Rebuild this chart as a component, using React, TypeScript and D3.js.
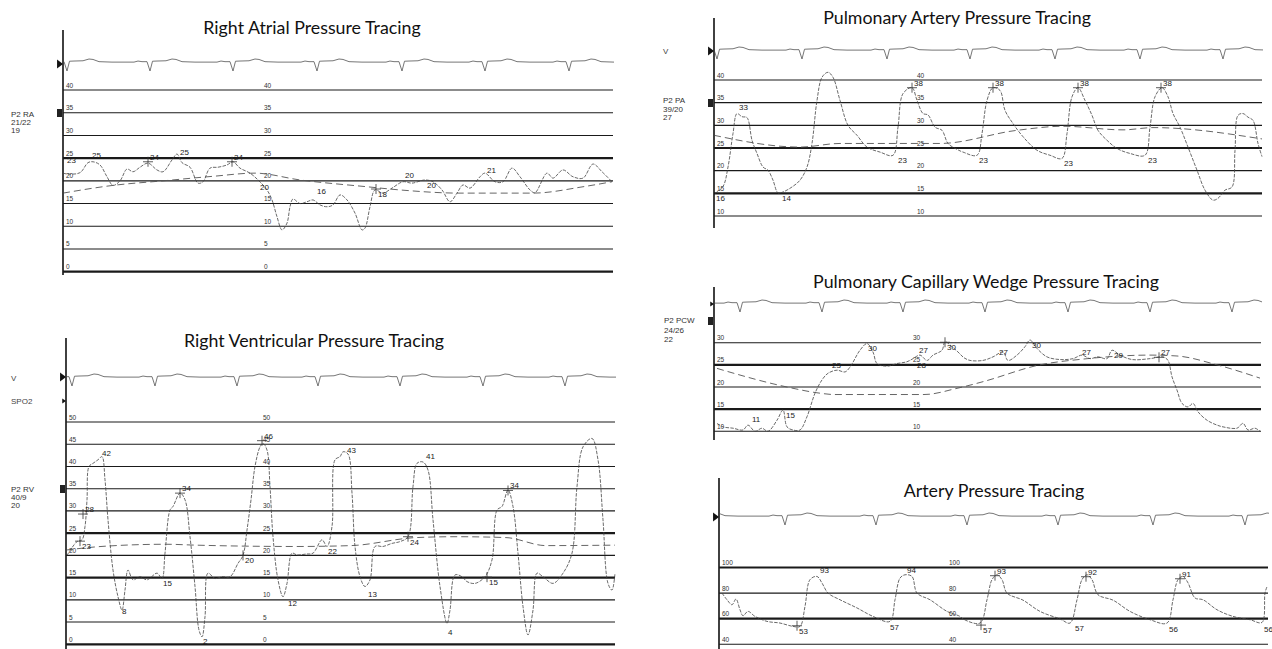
import React, { useEffect, useRef } from 'react';
import * as d3 from 'd3';

type Pt = [number, number];
type Mark = { t: number; v: number; label: string; cross?: boolean; below?: boolean };

// time in seconds (t), pressure in mmHg (v)

// ---------- one ECG complex, offsets in s, amplitude in arbitrary units ----------
const ecgBeat: Pt[] = [
  [-0.16, 0], [-0.12, 0.12], [-0.08, 0.05], [-0.03, 0.05], [0, -1], [0.025, 0.1],
  [0.07, 0.12], [0.16, 0.15], [0.22, 0.35], [0.26, 0.3], [0.32, 0.05], [0.45, 0]
];

// ---------- Right atrial ----------
const raGrid = [40, 35, 30, 25, 20, 15, 10, 5, 0];
const raBold = [25, 0];
const raBeats = [0.04, 0.87, 1.7, 2.54, 3.39, 4.22, 5.06];
const raInfo = ['P2 RA', '21/22', '19'];
const raPressure: Pt[] = [
  [0, 21.7], [0.05, 21.5], [0.17, 21.8], [0.25, 24], [0.3, 24.2], [0.37, 23.5], [0.44, 20.9],
  [0.5, 19], [0.57, 20], [0.64, 22.6], [0.7, 22], [0.77, 23], [0.85, 23.9], [0.94, 22.4],
  [1.0, 22], [1.09, 24.6], [1.14, 25.9], [1.19, 24], [1.27, 23], [1.35, 19.5], [1.4, 19.8],
  [1.47, 22.8], [1.55, 23], [1.64, 23.5], [1.7, 24.2], [1.77, 22.8], [1.87, 21.7], [1.95, 20.2],
  [2.04, 18], [2.09, 15.8], [2.14, 12.1], [2.19, 9.2], [2.24, 10.7], [2.27, 14.3], [2.3, 16],
  [2.37, 15], [2.44, 15.4], [2.5, 15.8], [2.57, 14.7], [2.64, 14.3], [2.7, 14.7], [2.77, 16.9],
  [2.84, 15.8], [2.92, 12.9], [2.99, 9.2], [3.02, 9.6], [3.07, 14.3], [3.12, 18], [3.2, 17.3],
  [3.29, 18.4], [3.4, 19.8], [3.49, 19.5], [3.62, 20.2], [3.7, 19.8], [3.79, 18], [3.87, 15.4],
  [3.94, 17.3], [4.0, 19.1], [4.07, 18.4], [4.17, 20.9], [4.22, 21.7], [4.32, 19.8], [4.4, 19.8],
  [4.49, 22.8], [4.57, 20.9], [4.67, 18], [4.72, 17.4], [4.84, 21.7], [4.9, 20.6], [5.0, 22.4],
  [5.1, 20.9], [5.2, 20.6], [5.3, 23.7], [5.39, 22], [5.49, 19.8]
];
const raMean: Pt[] = [
  [0, 17.3], [0.5, 19], [1.0, 20], [1.5, 21], [1.92, 21.7], [2.37, 20.2], [3.04, 18.7],
  [3.37, 18], [3.97, 17.3], [4.7, 17.3], [5.2, 18.7], [5.49, 19.8]
];
const raMarks: Mark[] = [
  { t: 0.02, v: 23.5, label: '23' }, { t: 0.27, v: 24.6, label: '25' },
  { t: 0.85, v: 24.2, label: '24', cross: true }, { t: 1.15, v: 25.3, label: '25' },
  { t: 1.69, v: 24.2, label: '24', cross: true }, { t: 1.95, v: 19.8, label: '20', below: true },
  { t: 2.52, v: 16.6, label: '16' }, { t: 3.13, v: 18.2, label: '18', cross: true, below: true },
  { t: 3.4, v: 20.2, label: '20' }, { t: 3.62, v: 20.2, label: '20', below: true },
  { t: 4.22, v: 21.3, label: '21' }
];

// ---------- Right ventricular ----------
const rvGrid = [50, 45, 40, 35, 30, 25, 20, 15, 10, 5, 0];
const rvBold = [25, 15, 0];
const rvBeats = [0.06, 0.89, 1.71, 2.52, 3.34, 4.17, 4.99];
const rvInfo = ['P2 RV', '40/9', '20'];
const rvPressure: Pt[] = [
  [0.01, 20], [0.11, 23.1], [0.16, 23.5], [0.19, 26.5], [0.21, 32.5], [0.23, 40], [0.27, 40.7],
  [0.32, 41.5], [0.36, 42.2], [0.39, 37], [0.42, 28], [0.47, 16.7], [0.52, 10.7], [0.56, 7.7],
  [0.59, 12.2], [0.62, 16.7], [0.67, 14.5], [0.74, 15.2], [0.81, 14.5], [0.91, 16], [0.96, 14.8],
  [0.99, 20.5], [1.04, 30.2], [1.07, 31], [1.14, 34], [1.19, 32.5], [1.24, 24.2], [1.29, 13],
  [1.33, 3.2], [1.36, 1.7], [1.39, 6.2], [1.42, 16], [1.49, 14.8], [1.56, 15.2], [1.64, 15.2],
  [1.72, 18.2], [1.77, 20], [1.81, 25.7], [1.85, 32.5], [1.89, 40], [1.94, 44.4], [1.97, 45.2],
  [2.01, 43.7], [2.04, 35.5], [2.07, 24.2], [2.12, 14.5], [2.17, 10.7], [2.21, 13.7], [2.26, 20.5],
  [2.31, 20.1], [2.4, 20.3], [2.47, 20.5], [2.56, 23.5], [2.61, 22], [2.66, 26.5], [2.69, 41.5],
  [2.74, 42.2], [2.77, 43.3], [2.82, 42.8], [2.86, 34], [2.89, 22], [2.94, 15.2], [2.99, 13],
  [3.04, 14.5], [3.09, 22], [3.17, 22], [3.26, 22.7], [3.34, 23.1], [3.42, 24.2], [3.47, 35.5],
  [3.51, 40.7], [3.57, 41], [3.62, 39.2], [3.67, 28], [3.74, 13], [3.81, 4.7], [3.84, 7.7],
  [3.89, 15.6], [3.96, 15.2], [4.01, 14.1], [4.09, 13.7], [4.19, 15.2], [4.26, 19], [4.31, 30.2],
  [4.36, 31], [4.42, 34.7], [4.47, 31], [4.52, 20.5], [4.57, 8.5], [4.62, 2.1], [4.67, 7.7],
  [4.71, 16], [4.77, 15.2], [4.87, 13.7], [4.97, 16], [5.06, 20.5], [5.11, 35.5], [5.17, 44.4],
  [5.26, 46.3], [5.32, 41.5], [5.37, 28], [5.42, 13.7], [5.46, 12.2], [5.49, 16]
];
const rvMean: Pt[] = [
  [0, 21.2], [0.35, 22], [1.0, 22.5], [1.3, 22.3], [2.3, 22], [2.85, 22.2], [3.5, 24],
  [3.9, 24.2], [4.4, 24], [4.8, 22.2], [5.49, 22.3]
];
const rvMarks: Mark[] = [
  { t: 0.17, v: 29.3, label: '28', cross: true }, { t: 0.14, v: 23.2, label: '23', cross: true, below: true },
  { t: 0.34, v: 42, label: '42' }, { t: 0.54, v: 8.6, label: '8', below: true },
  { t: 0.95, v: 15, label: '15', below: true }, { t: 1.14, v: 34, label: '34', cross: true },
  { t: 1.35, v: 1.9, label: '2', below: true }, { t: 1.77, v: 20, label: '20', cross: true, below: true },
  { t: 1.96, v: 45.8, label: '46', cross: true }, { t: 2.2, v: 10.5, label: '12', below: true },
  { t: 2.6, v: 22, label: '22', below: true }, { t: 2.79, v: 42.6, label: '43' },
  { t: 3.0, v: 12.5, label: '13', below: true }, { t: 3.42, v: 24.2, label: '24', cross: true, below: true },
  { t: 3.58, v: 41.3, label: '41' }, { t: 3.8, v: 4, label: '4', below: true },
  { t: 4.21, v: 15.1, label: '15', cross: true, below: true }, { t: 4.42, v: 34.6, label: '34', cross: true }
];

// ---------- Pulmonary artery ----------
const paGrid = [40, 35, 30, 25, 20, 15, 10];
const paBold = [25, 15];
const paBeats = [0.03, 0.88, 1.73, 2.56, 3.41, 4.26, 5.09];
const paInfo = ['P2 PA', '39/20', '27'];
const paPressure: Pt[] = [
  [0.01, 15], [0.09, 16.5], [0.14, 20.8], [0.19, 28.2], [0.23, 32.6], [0.28, 31.9], [0.33, 31.7],
  [0.38, 26.7], [0.43, 23.8], [0.49, 20.8], [0.54, 20.1], [0.59, 17.9], [0.64, 15.1], [0.69, 15.3],
  [0.78, 16.4], [0.86, 17.9], [0.93, 20.8], [0.98, 26], [1.03, 35.5], [1.08, 40.6], [1.14, 41.7],
  [1.19, 40.6], [1.26, 35.5], [1.34, 30], [1.43, 27.8], [1.53, 25.2], [1.66, 24.1], [1.79, 23.4],
  [1.84, 29.6], [1.89, 37], [1.98, 38.3], [2.03, 35.5], [2.09, 32.6], [2.14, 32.3], [2.21, 29.6],
  [2.28, 28.9], [2.34, 26], [2.43, 24.7], [2.49, 24.1], [2.63, 23.4], [2.68, 28.2], [2.73, 35.5],
  [2.79, 38.3], [2.86, 37.7], [2.91, 33.3], [2.99, 30.4], [3.09, 27.5], [3.23, 24.5], [3.36, 23.4],
  [3.48, 22.7], [3.53, 28.2], [3.58, 36.3], [3.64, 38.3], [3.71, 35.5], [3.78, 32.2], [3.84, 28.9],
  [3.93, 26.7], [4.03, 24.9], [4.16, 23.8], [4.31, 23.4], [4.36, 29.6], [4.41, 36.3], [4.48, 38.3],
  [4.54, 36.3], [4.59, 32.6], [4.66, 29.6], [4.74, 25.2], [4.83, 20.1], [4.91, 15.7], [4.99, 13.5],
  [5.04, 13.9], [5.11, 15.7], [5.18, 16.4], [5.21, 24.5], [5.24, 32.2], [5.29, 32.6], [5.34, 31.8],
  [5.39, 31.1], [5.44, 26], [5.48, 23.1]
];
const paMean: Pt[] = [
  [0, 27.8], [0.86, 25.2], [1.26, 26], [2.26, 26], [3.03, 28.9], [3.49, 29.8], [4.09, 29],
  [4.39, 29.5], [5.48, 27]
];
const paMarks: Mark[] = [
  { t: 0.23, v: 33, label: '33' }, { t: 0.0, v: 15, label: '16', below: true },
  { t: 0.66, v: 15, label: '14', below: true },
  { t: 1.98, v: 38.3, label: '38', cross: true }, { t: 1.82, v: 23.4, label: '23', below: true },
  { t: 2.79, v: 38.3, label: '38', cross: true }, { t: 2.63, v: 23.4, label: '23', below: true },
  { t: 3.64, v: 38.3, label: '38', cross: true }, { t: 3.48, v: 22.9, label: '23', below: true },
  { t: 4.47, v: 38.3, label: '38', cross: true }, { t: 4.32, v: 23.4, label: '23', below: true }
];

// ---------- Pulmonary capillary wedge ----------
const pcwGrid = [30, 25, 20, 15, 10];
const pcwBold = [25, 15];
const pcwBeats = [-0.56, 0.26, 1.08, 1.89, 2.71, 3.54, 4.36, 5.18];
const pcwInfo = ['P2 PCW', '24/26', '22'];
const pcwPressure: Pt[] = [
  [0.03, 11.8], [0.09, 11], [0.19, 10.7], [0.29, 10.3], [0.34, 11.4], [0.41, 10], [0.48, 10.7],
  [0.54, 10], [0.63, 12.5], [0.69, 14.8], [0.73, 11], [0.79, 10.3], [0.86, 10.3], [0.93, 13.3],
  [1.01, 18.6], [1.08, 21.6], [1.14, 23.1], [1.23, 23.8], [1.31, 23.4], [1.36, 24.5], [1.46, 28.3],
  [1.53, 29.8], [1.59, 27.9], [1.63, 25.3], [1.73, 24.7], [1.83, 25.3], [1.93, 25.7], [1.99, 26.4],
  [2.06, 27.2], [2.13, 26], [2.19, 27.2], [2.28, 28.3], [2.31, 30.2], [2.38, 29.1], [2.44, 27.9],
  [2.5, 26.6], [2.56, 26], [2.69, 26], [2.79, 26.8], [2.89, 27.9], [2.94, 26], [3.03, 27.2],
  [3.11, 29.1], [3.16, 30.6], [3.23, 28.7], [3.33, 26.8], [3.46, 26.2], [3.59, 26.4], [3.68, 27.2],
  [3.76, 26.4], [3.84, 26.8], [3.93, 26.4], [3.98, 28.3], [4.06, 27.2], [4.18, 26.2], [4.36, 26.4],
  [4.49, 26.8], [4.54, 26], [4.58, 22.3], [4.63, 19.3], [4.68, 16.3], [4.74, 15.5], [4.79, 16.3],
  [4.84, 14.4], [4.93, 12.5], [5.03, 11.4], [5.09, 11], [5.23, 10.7], [5.29, 11.8], [5.34, 10.3],
  [5.41, 10.7], [5.46, 10]
];
const pcwMean: Pt[] = [
  [0.03, 24.2], [0.73, 20], [1.06, 18.6], [1.2, 18.3], [2.1, 18.3], [2.43, 19.7], [2.69, 21.2],
  [3.26, 25], [3.69, 26.3], [4.36, 27.2], [4.63, 27], [5.03, 25], [5.46, 22]
];
const pcwMarks: Mark[] = [
  { t: 0.36, v: 11.6, label: '11' }, { t: 0.7, v: 14.7, label: '15', below: true },
  { t: 1.16, v: 23.8, label: '23' }, { t: 1.52, v: 29.9, label: '30', below: true },
  { t: 2.03, v: 27.2, label: '27' }, { t: 2.01, v: 26, label: '28', below: true },
  { t: 2.31, v: 30.1, label: '30', cross: true, below: true }, { t: 2.83, v: 26.8, label: '27' },
  { t: 3.16, v: 30.6, label: '30', below: true }, { t: 3.66, v: 26.8, label: '27' },
  { t: 3.98, v: 28.3, label: '29', below: true }, { t: 4.45, v: 26.7, label: '27', cross: true }
];

// ---------- Systemic artery ----------
const artGrid = [100, 80, 60, 40];
const artBold = [100, 60];
const artBeats = [-0.26, 0.66, 1.57, 2.48, 3.39, 4.34, 5.26];
const artPressure: Pt[] = [
  [0.03, 80], [0.08, 74.8], [0.13, 70.9], [0.17, 75.4], [0.21, 67], [0.24, 62.3], [0.29, 65.7],
  [0.36, 61.8], [0.48, 57.9], [0.61, 56.6], [0.74, 54], [0.81, 54], [0.86, 69.6], [0.91, 90.5],
  [0.98, 93], [1.03, 87.9], [1.09, 80], [1.21, 74.8], [1.38, 68.4], [1.54, 61.8], [1.71, 57.9],
  [1.76, 74.8], [1.81, 91.7], [1.86, 94.3], [1.93, 93], [1.98, 80], [2.11, 74.8], [2.28, 65.7],
  [2.41, 61.8], [2.44, 59.8], [2.61, 56.6], [2.68, 74.8], [2.73, 90.5], [2.78, 94.3], [2.83, 90.5],
  [2.88, 80], [3.04, 74.5], [3.21, 65.7], [3.41, 59.8], [3.51, 56.6], [3.58, 74.8], [3.63, 90.5],
  [3.68, 94.3], [3.73, 90.5], [3.79, 78.7], [3.94, 74.5], [4.11, 65.7], [4.31, 59.2], [4.48, 56.6],
  [4.54, 74.8], [4.59, 90.5], [4.64, 93], [4.69, 88], [4.76, 76.2], [4.84, 74.8], [4.98, 67],
  [5.14, 61.8], [5.31, 59.2], [5.43, 57.1], [5.46, 80], [5.48, 85]
];
const artMarks: Mark[] = [
  { t: 0.78, v: 54.5, label: '53', cross: true, below: true }, { t: 0.99, v: 94, label: '93' },
  { t: 1.69, v: 57.6, label: '57', below: true }, { t: 1.86, v: 94.4, label: '94' },
  { t: 2.62, v: 55, label: '57', cross: true, below: true }, { t: 2.76, v: 93.6, label: '93', cross: true },
  { t: 3.54, v: 57, label: '57', below: true }, { t: 3.67, v: 92.8, label: '92', cross: true },
  { t: 4.48, v: 56, label: '56', below: true }, { t: 4.61, v: 91.2, label: '91', cross: true },
  { t: 5.43, v: 56, label: '56', below: true }
];

// ---------- layout of the five strips ----------
const panels = [
  {
    id: 'ra', title: 'Right Atrial Pressure Tracing', titleX: 312, titleY: 34,
    x0: 63, x1: 613, axisTop: 30, axisBottom: 275, vTop: 40, vBottom: 0, yTop: 90, yBottom: 271.7,
    grid: raGrid, bold: raBold, label2X: 264, ecgY: 62, beats: raBeats,
    pressure: raPressure, mean: raMean, marks: raMarks,
    info: raInfo, infoX: 11, infoY: 117, infoStep: 8, side: [] as { text: string; y: number }[],
    glyphs: [{ kind: 'tri', y: 64 }, { kind: 'sq', y: 113 }]
  },
  {
    id: 'rv', title: 'Right Ventricular Pressure Tracing', titleX: 314, titleY: 347,
    x0: 66, x1: 615, axisTop: 338, axisBottom: 649, vTop: 50, vBottom: 0, yTop: 422, yBottom: 644.3,
    grid: rvGrid, bold: rvBold, label2X: 263, ecgY: 377, beats: rvBeats,
    pressure: rvPressure, mean: rvMean, marks: rvMarks,
    info: rvInfo, infoX: 11, infoY: 492, infoStep: 8,
    side: [{ text: 'V', y: 381 }, { text: 'SPO2', y: 404 }],
    glyphs: [{ kind: 'tri', y: 377 }, { kind: 'smalltri', y: 401 }, { kind: 'sq', y: 489 }]
  },
  {
    id: 'pa', title: 'Pulmonary Artery Pressure Tracing', titleX: 957, titleY: 24,
    x0: 714, x1: 1262, axisTop: 18, axisBottom: 228, vTop: 40, vBottom: 10, yTop: 80, yBottom: 216,
    grid: paGrid, bold: paBold, label2X: 917, ecgY: 50, beats: paBeats,
    pressure: paPressure, mean: paMean, marks: paMarks,
    info: paInfo, infoX: 663, infoY: 103, infoStep: 8.5,
    side: [{ text: 'V', y: 54 }],
    glyphs: [{ kind: 'tri', y: 51 }, { kind: 'sq', y: 103 }]
  },
  {
    id: 'pcw', title: 'Pulmonary Capillary Wedge Pressure Tracing', titleX: 986, titleY: 288,
    x0: 714, x1: 1261, axisTop: 287, axisBottom: 440, vTop: 30, vBottom: 10, yTop: 342.7, yBottom: 431.3,
    grid: pcwGrid, bold: pcwBold, label2X: 913, ecgY: 303, beats: pcwBeats,
    pressure: pcwPressure, mean: pcwMean, marks: pcwMarks,
    info: pcwInfo, infoX: 664, infoY: 323, infoStep: 9.5, side: [] as { text: string; y: number }[],
    glyphs: [{ kind: 'smalltri', y: 304 }, { kind: 'sq', y: 321 }]
  },
  {
    id: 'art', title: 'Artery Pressure Tracing', titleX: 994, titleY: 497,
    x0: 719, x1: 1268, axisTop: 478, axisBottom: 649, vTop: 100, vBottom: 40, yTop: 567.5, yBottom: 644.3,
    grid: artGrid, bold: artBold, label2X: 949, ecgY: 516, beats: artBeats,
    pressure: artPressure, mean: [] as Pt[], marks: artMarks,
    info: [] as string[], infoX: 664, infoY: 0, infoStep: 8, side: [] as { text: string; y: number }[],
    glyphs: [{ kind: 'tri', y: 517 }]
  }
];

const smallFont = '"Liberation Sans", Arial, sans-serif';

function App() {
  const svgRef = useRef<SVGSVGElement>(null);

  useEffect(() => {
    const svg = d3.select(svgRef.current);
    svg.selectAll('*').remove();
    const defs = svg.append('defs');

    panels.forEach(p => {
      const g = svg.append('g');
      const tMax = (p.x1 - p.x0) / 100;
      const x = d3.scaleLinear().domain([0, tMax]).range([p.x0, p.x1]);
      const y = d3.scaleLinear().domain([p.vBottom, p.vTop]).range([p.yBottom, p.yTop]);
      const ecgScale = d3.scaleLinear().domain([-1, 0.35]).range([p.ecgY + 9, p.ecgY - 3]);

      defs.append('clipPath').attr('id', `clip-${p.id}`)
        .append('rect')
        .attr('x', p.x0 + 1).attr('y', 0)
        .attr('width', p.x1 - p.x0).attr('height', 649);

      // title
      g.append('text')
        .attr('x', p.titleX).attr('y', p.titleY)
        .attr('text-anchor', 'middle')
        .style('font-family', 'Lato, "Open Sans", sans-serif')
        .style('font-size', '17.8px')
        .style('fill', '#111')
        .text(p.title);

      // left info block
      p.info.forEach((s, i) => {
        g.append('text')
          .attr('x', p.infoX).attr('y', p.infoY + i * p.infoStep)
          .style('font-family', smallFont).style('font-size', '8px').style('fill', '#333')
          .text(s);
      });
      p.side.forEach(s => {
        g.append('text')
          .attr('x', p.infoX).attr('y', s.y)
          .style('font-family', smallFont).style('font-size', '8px').style('fill', '#444')
          .text(s.text);
      });

      // channel glyphs on the axis
      p.glyphs.forEach(gl => {
        if (gl.kind === 'sq') {
          g.append('rect').attr('x', p.x0 - 6).attr('y', gl.y - 4).attr('width', 5).attr('height', 8)
            .style('fill', '#222');
        } else {
          const s = gl.kind === 'tri' ? 4.5 : 2.5;
          g.append('path')
            .attr('d', `M${p.x0 - 1 - s * 1.1},${gl.y - s} L${p.x0},${gl.y} L${p.x0 - 1 - s * 1.1},${gl.y + s} Z`)
            .style('fill', '#111');
        }
      });

      // vertical axis line
      g.append('line')
        .attr('x1', p.x0).attr('x2', p.x0).attr('y1', p.axisTop).attr('y2', p.axisBottom)
        .style('stroke', '#111').style('stroke-width', 1.6);

      // grid lines and their scale labels
      p.grid.forEach(v => {
        g.append('line')
          .attr('x1', p.x0).attr('x2', p.x1).attr('y1', y(v)).attr('y2', y(v))
          .style('stroke', '#1a1a1a')
          .style('stroke-width', p.bold.includes(v) ? 2.2 : 1.1);
        [p.x0 + 3, p.label2X].forEach(lx => {
          g.append('text')
            .attr('x', lx).attr('y', y(v) - 2.5)
            .style('font-family', smallFont).style('font-size', '6.5px').style('fill', '#333')
            .text(v);
        });
      });

      const plot = g.append('g').attr('clip-path', `url(#clip-${p.id})`);

      // ECG strip
      const ecgPts: Pt[] = [[-1, 0]];
      p.beats.forEach(b => ecgBeat.forEach(([dt, a]) => ecgPts.push([b + dt, a])));
      ecgPts.push([tMax + 1, 0]);
      plot.append('path')
        .attr('d', d3.line<Pt>().x(d => x(d[0])).y(d => ecgScale(d[1]))(ecgPts))
        .style('fill', 'none').style('stroke', '#666').style('stroke-width', 0.9);

      // mean pressure (long dashes)
      if (p.mean.length) {
        plot.append('path')
          .attr('d', d3.line<Pt>().x(d => x(d[0])).y(d => y(d[1])).curve(d3.curveMonotoneX)(p.mean))
          .style('fill', 'none').style('stroke', '#555').style('stroke-width', 0.9)
          .style('stroke-dasharray', '7,4');
      }

      // pressure waveform
      plot.append('path')
        .attr('d', d3.line<Pt>().x(d => x(d[0])).y(d => y(d[1])).curve(d3.curveCatmullRom.alpha(0.5))(p.pressure))
        .style('fill', 'none').style('stroke', '#444').style('stroke-width', 0.8)
        .style('stroke-dasharray', '3.5,1.3');

      // measurement marks
      p.marks.forEach(m => {
        const mx = x(m.t), my = y(m.v);
        if (m.cross) {
          g.append('path')
            .attr('d', `M${mx - 5},${my} H${mx + 5} M${mx},${my - 5} V${my + 5}`)
            .style('stroke', '#333').style('stroke-width', 0.8);
        }
        g.append('text')
          .attr('x', mx + 2).attr('y', m.below ? my + 8 : my - 2)
          .style('font-family', smallFont).style('font-size', '8px').style('fill', '#222')
          .text(m.label);
      });
    });
  }, []);

  return (
    <svg
      ref={svgRef}
      width={1272}
      height={649}
      style={{ position: 'absolute', left: 0, top: 0, background: '#fff' }}
    />
  );
}

export default App;
